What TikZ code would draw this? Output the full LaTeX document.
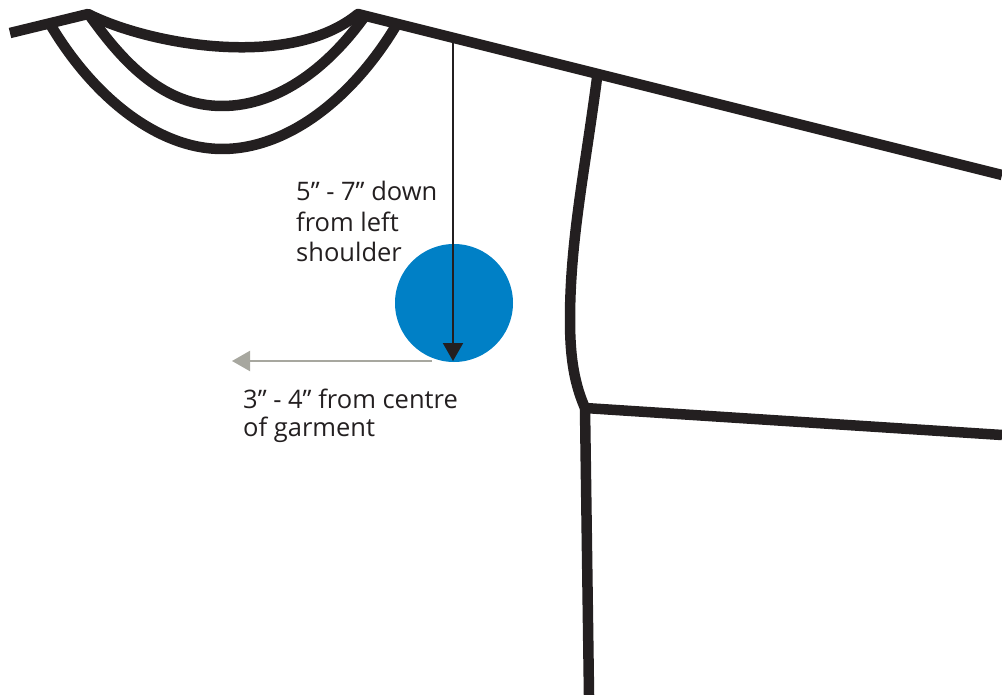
\documentclass[tikz,border=0pt]{standalone}
\usepackage{fontspec}
\setmainfont{Open Sans}
\usetikzlibrary{arrows.meta}
\definecolor{seamblack}{HTML}{231F20}
\definecolor{patchblue}{HTML}{0080C6}
\definecolor{measuregrey}{HTML}{A7A79F}
\tikzset{
  seam/.style={seamblack, line width=10.5pt, line join=round},
  measure/.style={line width=2pt, -{Triangle[length=18pt, width=20pt]}},
  note/.style={anchor=base west, inner sep=0pt, font=\fontsize{25.5}{30}\selectfont, text=seamblack}
}
\begin{document}
\begin{tikzpicture}[x=1pt, y=-1pt]
\useasboundingbox (0,0) rectangle (1002,695);
% shirt outline
\draw[seam] (10,33) -- (88,14) .. controls (150,45) and (290,70) .. (358,14) -- (1002,175);
\draw[seam] (50,24) .. controls (95,100) and (160,149) .. (222,149) .. controls (290,149) and (355,95) .. (397,24);
\draw[seam] (90,16) .. controls (125,65) and (165,106) .. (222,106) .. controls (280,106) and (330,65) .. (365,16);
\draw[seam] (597,78) .. controls (585,170) and (570,240) .. (570,320) .. controls (570,360) and (575,385) .. (585,408);
\draw[seam] (585,408) -- (1002,435);
\draw[seam] (585,408) -- (589,695);
% placement
\fill[patchblue] (454,303) circle (59);
\coordinate (shoulder) at (453,42);
\coordinate (patchbottom) at (453,361);
\coordinate (patchleft) at (432,361);
\coordinate (garmentcentre) at (232,361);
\draw[measure, seamblack] (shoulder) -- (patchbottom);
\draw[measure, measuregrey] (patchleft) -- (garmentcentre);
\node[note] (downlabel) at (296,201) {5" - 7" down};
\node[note] (leftlabel) at (296,232) {from left};
\node[note] (shoulderlabel) at (296,262) {shoulder};
\node[note] (centrelabel) at (243,408) {3" - 4" from centre};
\node[note] (garmentlabel) at (243,436) {of garment};
\end{tikzpicture}
\end{document}
